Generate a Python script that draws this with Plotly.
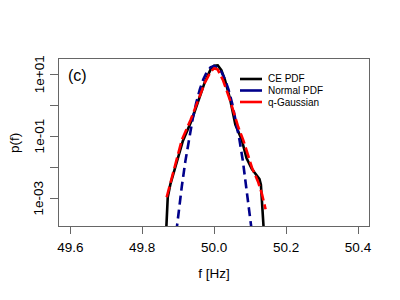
import math
import plotly.graph_objects as go

# ---- data ----
ce_f = [49.866, 49.868, 49.871, 49.878, 49.893, 49.913, 49.937, 49.957, 49.975, 49.990,
        50.000, 50.010, 50.020, 50.030, 50.044, 50.059, 50.077, 50.090, 50.105, 50.118,
        50.126, 50.130, 50.134, 50.137, 50.139]
ce_p = [6.3e-5, 4.0e-4, 1.1e-3, 2.8e-3, 1.05e-2, 7.1e-2, 0.32, 1.41, 6.0, 14.1,
        18.6, 19.1, 13.5, 6.6, 1.66, 0.24, 7.6e-2, 2.0e-2, 8.9e-3, 5.6e-3,
        4.2e-3, 2.8e-3, 7.9e-4, 2.5e-4, 6.3e-5]

norm_f = [49.89, 49.90, 49.91, 49.92, 49.93, 49.94, 49.95, 49.96, 49.97, 49.98, 49.99,
          50.00, 50.01, 50.02, 50.03, 50.04, 50.05, 50.06, 50.07, 50.08, 50.09, 50.10, 50.11]
norm_p = [2.9e-5, 3.0e-4, 2.4e-3, 1.6e-2, 8.3e-2, 0.35, 1.17, 3.2, 6.9, 12.0, 16.6,
          18.6, 16.6, 12.0, 6.9, 3.2, 1.17, 0.35, 8.3e-2, 1.6e-2, 2.4e-3, 3.0e-4, 2.9e-5]

qg_f = [49.868, 49.891, 49.910, 49.935, 49.956, 49.975, 49.990, 50.000, 50.010, 50.025,
        50.044, 50.067, 50.081, 50.094, 50.105, 50.122, 50.133, 50.143]
qg_p = [1.1e-3, 1.05e-2, 7.6e-2, 0.35, 1.48, 5.6, 12.0, 15.5, 14.1, 6.3,
        1.48, 0.20, 7.6e-2, 2.5e-2, 1.0e-2, 3.5e-3, 1.4e-3, 4.5e-4]

x_ticks = [49.6, 49.8, 50.0, 50.2, 50.4]
x_ticklabels = ["49.6", "49.8", "50.0", "50.2", "50.4"]
y_ticks = [10, 1, 0.1, 0.01, 0.001]
y_ticklabels = ["1e+01", "", "1e-01", "", "1e-03"]

series_names = ["CE PDF", "Normal PDF", "q-Gaussian"]
series_colors = ["#000000", "#00008B", "#FF0000"]

FONT = "Liberation Sans, Arial, Helvetica, sans-serif"
FRAME = "#666666"

# page offset of the plot div (browser body margin)
OFF = 8
W, H = 400 - OFF, 300 - OFF

fig = go.Figure()
fig.add_trace(go.Scatter(x=ce_f, y=ce_p, mode="lines", name=series_names[0],
                         line=dict(color=series_colors[0], width=2.6)))
fig.add_trace(go.Scatter(x=norm_f, y=norm_p, mode="lines", name=series_names[1],
                         line=dict(color=series_colors[1], width=2.6, dash="9px,5px")))
fig.add_trace(go.Scatter(x=qg_f, y=qg_p, mode="lines", name=series_names[2],
                         line=dict(color=series_colors[2], width=2.6, dash="11px,4px")))

# plot area in page pixels
L, R, T, B = 59, 369, 59, 226


def px(x):
    return (x - L) / (R - L)


def py(y):
    return (B - y) / (B - T)


# manual R-style legend
leg_y = [79, 90.5, 102]
for name, col, yy in zip(series_names, series_colors, leg_y):
    fig.add_shape(type="line", xref="paper", yref="paper",
                  x0=px(240), x1=px(262), y0=py(yy), y1=py(yy),
                  line=dict(color=col, width=2.6))
    fig.add_annotation(xref="paper", yref="paper", x=px(266), y=py(yy),
                       text=name, showarrow=False, xanchor="left", yanchor="middle",
                       font=dict(family=FONT, size=10, color="black"))

fig.add_annotation(xref="paper", yref="paper", x=px(77), y=py(75), text="(c)",
                   showarrow=False, xanchor="center", yanchor="middle",
                   font=dict(family=FONT, size=16, color="black"))

# rotated y tick labels (R style)
for v, lab in zip(y_ticks, y_ticklabels):
    if lab:
        fig.add_annotation(xref="paper", yref="y", x=px(39), y=math.log10(v), text=lab,
                           textangle=-90, showarrow=False, xanchor="center",
                           yanchor="middle", font=dict(family=FONT, size=13.5, color="black"))

# y axis title
fig.add_annotation(xref="paper", yref="paper", x=px(14), y=py(143), text="p(f)",
                   textangle=-90, showarrow=False, xanchor="center", yanchor="middle",
                   font=dict(family=FONT, size=13.5, color="black"))

fig.update_layout(
    width=W, height=H,
    margin=dict(l=L - OFF, r=W - (R - OFF), t=T - OFF, b=H - (B - OFF), autoexpand=False),
    paper_bgcolor="white", plot_bgcolor="white",
    showlegend=False,
    font=dict(family=FONT, size=13.5, color="black"),
    xaxis=dict(range=[49.5686, 50.4306], tickvals=x_ticks, ticktext=x_ticklabels,
               showgrid=False, zeroline=False, showline=True, mirror=True,
               linecolor=FRAME, linewidth=1, ticks="outside", ticklen=7,
               tickcolor=FRAME, tickfont=dict(size=13.5), ticklabelstandoff=2,
               title=dict(text="f [Hz]", standoff=14, font=dict(size=13.5))),
    yaxis=dict(type="log", range=[-3.884, 1.49], tickvals=y_ticks,
               ticktext=["" for _ in y_ticks],
               showgrid=False, zeroline=False, showline=True, mirror=True,
               linecolor=FRAME, linewidth=1, ticks="outside", ticklen=8,
               tickcolor=FRAME),
)

fig.write_html("out.html")
